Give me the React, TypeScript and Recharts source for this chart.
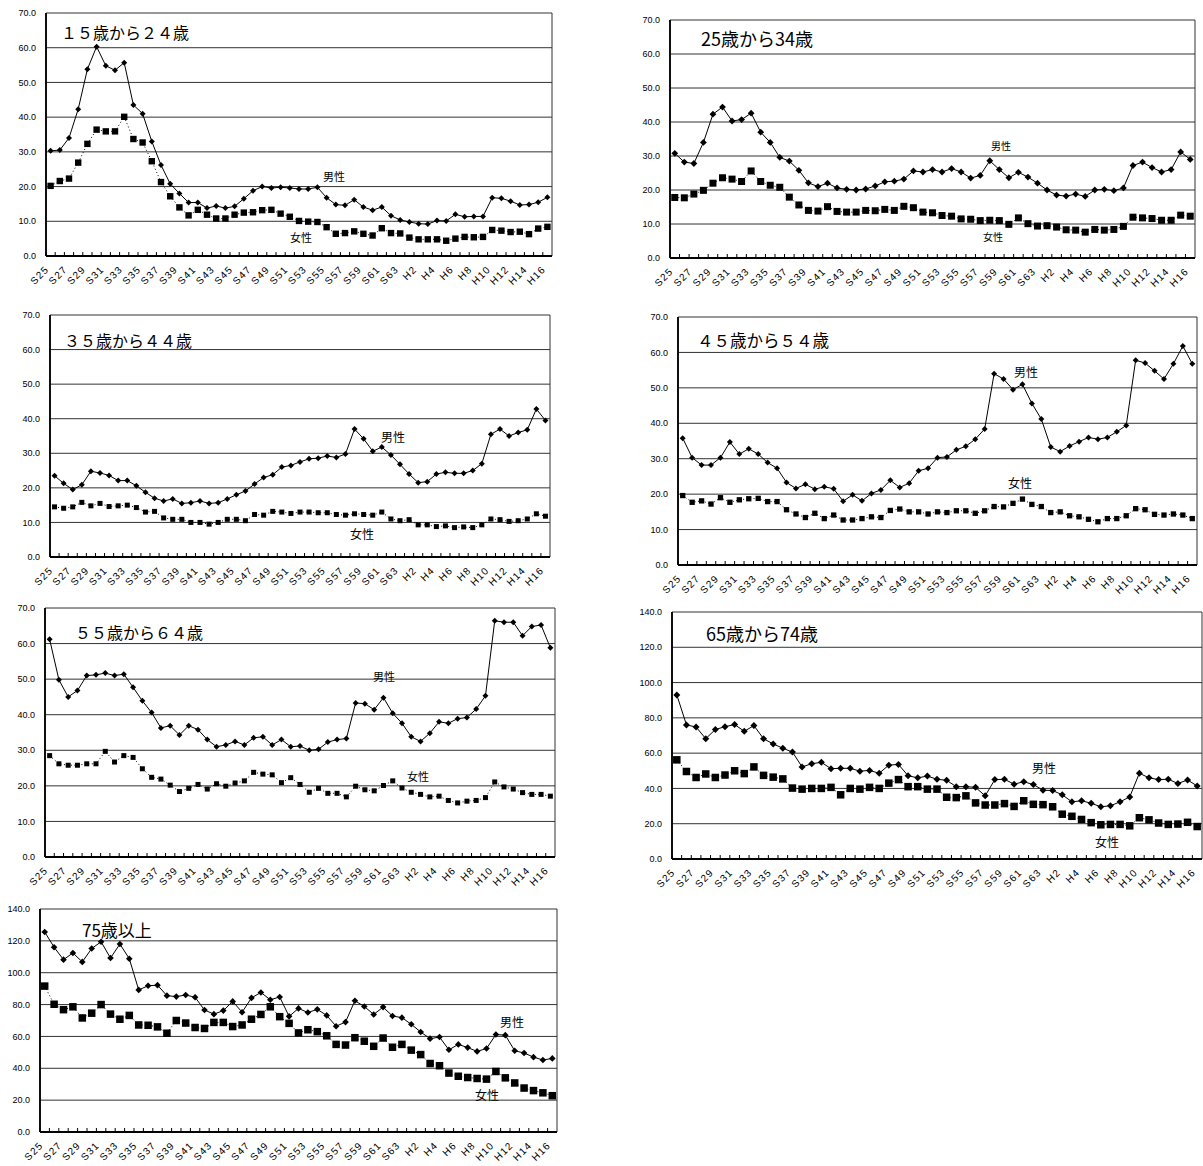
import React from 'react';
import { LineChart, Line, XAxis, YAxis, CartesianGrid } from 'recharts';

const years = [
  'S25', 'S26', 'S27', 'S28', 'S29', 'S30', 'S31', 'S32', 'S33', 'S34',
  'S35', 'S36', 'S37', 'S38', 'S39', 'S40', 'S41', 'S42', 'S43', 'S44',
  'S45', 'S46', 'S47', 'S48', 'S49', 'S50', 'S51', 'S52', 'S53', 'S54',
  'S55', 'S56', 'S57', 'S58', 'S59', 'S60', 'S61', 'S62', 'S63',
  'H1', 'H2', 'H3', 'H4', 'H5', 'H6', 'H7', 'H8', 'H9', 'H10',
  'H11', 'H12', 'H13', 'H14', 'H15', 'H16'
];

const ticks70 = [0, 10, 20, 30, 40, 50, 60, 70];
const ticks140 = [0, 20, 40, 60, 80, 100, 120, 140];

const male15 = [30.3, 30.5, 34.0, 42.3, 53.8, 60.3, 54.8, 53.5, 55.7, 43.5, 41.0, 33.0, 26.2, 20.8, 18.0, 15.4, 15.4, 13.8, 14.4, 13.8, 14.3, 16.5, 18.8, 20.0, 19.6, 19.8, 19.6, 19.3, 19.3, 19.8, 16.8, 14.8, 14.6, 16.2, 14.1, 13.2, 14.1, 11.6, 10.4, 9.8, 9.3, 9.2, 10.2, 10.1, 12.0, 11.3, 11.4, 11.4, 16.8, 16.6, 15.8, 14.7, 14.8, 15.5, 16.9];
const female15 = [20.2, 21.6, 22.3, 26.9, 32.3, 36.4, 35.9, 35.9, 40.1, 33.7, 32.7, 27.3, 21.3, 17.2, 14.0, 11.7, 13.3, 11.9, 10.8, 10.8, 11.9, 12.5, 12.6, 13.2, 13.3, 12.2, 11.3, 10.1, 9.9, 9.8, 8.3, 6.4, 6.6, 7.1, 6.4, 5.9, 8.0, 6.6, 6.5, 5.3, 4.8, 4.8, 4.8, 4.4, 5.0, 5.5, 5.4, 5.5, 7.5, 7.3, 6.9, 7.0, 6.3, 7.9, 8.4];

const male25 = [30.8, 28.2, 27.8, 34.0, 42.3, 44.4, 40.3, 40.7, 42.6, 37.0, 34.0, 29.6, 28.5, 25.8, 22.1, 21.0, 22.0, 20.6, 20.2, 20.0, 20.3, 21.2, 22.4, 22.6, 23.2, 25.6, 25.3, 26.0, 25.3, 26.3, 25.3, 23.5, 24.3, 28.6, 26.0, 23.6, 25.2, 23.8, 22.0, 20.0, 18.5, 18.2, 18.8, 18.1, 20.0, 20.2, 19.8, 20.6, 27.2, 28.2, 26.6, 25.3, 26.0, 31.2, 29.0];
const female25 = [17.8, 17.7, 18.8, 19.9, 22.0, 23.6, 23.2, 22.5, 25.6, 22.5, 21.4, 20.8, 17.9, 15.6, 14.0, 13.8, 15.1, 13.7, 13.5, 13.5, 14.0, 13.9, 14.3, 14.0, 15.2, 14.8, 13.5, 13.3, 12.5, 12.3, 11.5, 11.4, 11.0, 11.1, 11.0, 9.9, 11.8, 10.1, 9.4, 9.5, 9.1, 8.3, 8.2, 7.6, 8.4, 8.2, 8.4, 9.3, 12.0, 11.8, 11.6, 11.1, 11.1, 12.6, 12.3];

const male35 = [23.5, 21.3, 19.5, 20.9, 24.8, 24.3, 23.6, 22.1, 22.1, 20.6, 18.7, 17.0, 16.2, 16.8, 15.5, 15.7, 16.2, 15.5, 15.7, 16.8, 18.0, 19.1, 21.1, 23.0, 23.8, 26.0, 26.5, 27.5, 28.4, 28.6, 29.2, 28.8, 29.8, 37.0, 34.2, 30.6, 31.8, 29.5, 26.8, 24.0, 21.5, 21.8, 24.0, 24.5, 24.2, 24.2, 25.0, 27.0, 35.5, 37.0, 35.0, 36.0, 36.8, 42.8, 39.5];
const female35 = [14.5, 14.1, 14.5, 15.8, 14.8, 15.5, 14.6, 14.8, 15.0, 14.3, 13.0, 13.2, 11.3, 10.9, 10.9, 10.0, 10.0, 9.5, 10.0, 10.9, 10.9, 10.5, 12.3, 12.1, 13.2, 13.0, 12.6, 13.0, 13.0, 12.8, 12.8, 12.3, 12.1, 12.5, 12.3, 12.1, 13.0, 11.0, 10.5, 10.8, 9.3, 9.3, 8.8, 9.0, 8.5, 8.7, 8.5, 9.3, 11.0, 10.8, 10.3, 10.5, 11.0, 12.5, 11.8];

const male45 = [35.8, 30.3, 28.2, 28.2, 30.3, 34.7, 31.3, 32.8, 31.3, 28.9, 27.3, 23.3, 21.6, 22.8, 21.4, 22.1, 21.5, 18.0, 19.8, 18.1, 20.2, 21.2, 23.9, 21.9, 23.1, 26.6, 27.3, 30.3, 30.5, 32.5, 33.5, 35.5, 38.4, 54.0, 52.5, 49.5, 51.0, 45.6, 41.2, 33.3, 32.0, 33.6, 34.8, 36.0, 35.5, 36.0, 37.6, 39.4, 57.8, 57.0, 54.8, 52.5, 56.8, 61.8, 56.8];
const female45 = [19.6, 17.7, 18.1, 17.2, 19.0, 17.7, 18.4, 18.7, 18.8, 17.9, 17.9, 15.6, 14.4, 13.4, 14.6, 13.1, 14.1, 12.7, 12.7, 13.1, 13.6, 13.4, 15.4, 15.8, 15.0, 15.0, 14.4, 15.0, 14.8, 15.3, 15.3, 14.6, 15.3, 16.5, 16.4, 17.4, 18.6, 17.1, 16.5, 14.8, 15.0, 13.9, 13.6, 12.9, 12.2, 13.1, 13.1, 13.9, 15.9, 15.6, 14.3, 14.1, 14.4, 14.1, 13.1];

const male55 = [61.2, 49.8, 45.0, 46.8, 51.0, 51.2, 51.7, 51.0, 51.4, 47.7, 43.9, 40.6, 36.3, 36.9, 34.3, 36.9, 35.8, 33.0, 31.0, 31.5, 32.5, 31.5, 33.5, 33.8, 31.5, 33.0, 31.0, 31.2, 30.0, 30.3, 32.3, 33.0, 33.3, 43.3, 43.1, 41.4, 44.8, 40.4, 37.6, 33.8, 32.5, 34.8, 38.0, 37.6, 38.9, 39.2, 41.6, 45.3, 66.4, 66.0, 66.0, 62.2, 64.8, 65.2, 58.8];
const female55 = [28.5, 26.2, 25.8, 25.8, 26.2, 26.2, 29.7, 26.7, 28.5, 28.0, 24.8, 22.4, 21.9, 20.2, 18.4, 19.3, 20.4, 19.1, 20.6, 19.9, 20.8, 21.4, 23.8, 23.3, 23.1, 20.9, 22.3, 20.4, 18.2, 19.3, 17.9, 17.9, 16.9, 19.9, 18.9, 18.6, 20.1, 21.4, 19.4, 18.2, 17.6, 16.9, 17.1, 15.9, 15.2, 15.7, 15.9, 16.7, 21.1, 19.7, 19.1, 18.1, 17.6, 17.6, 17.1];

const male65 = [93.0, 76.0, 74.8, 68.2, 73.4, 75.0, 76.2, 72.4, 75.6, 68.2, 65.2, 62.8, 60.6, 52.2, 54.0, 54.8, 51.2, 51.4, 51.4, 49.8, 50.2, 48.6, 53.2, 53.6, 47.2, 46.0, 47.0, 45.2, 44.6, 41.0, 41.0, 40.6, 35.8, 45.0, 45.2, 42.4, 43.8, 42.2, 39.0, 38.8, 36.4, 32.4, 33.0, 31.6, 29.6, 30.2, 32.4, 35.2, 48.6, 46.0, 45.0, 45.2, 42.8, 44.8, 41.4];
const female65 = [56.2, 49.6, 46.2, 48.2, 46.2, 47.6, 50.0, 48.4, 52.2, 47.4, 46.4, 45.4, 40.2, 39.6, 40.0, 40.0, 40.6, 36.4, 40.0, 39.6, 40.6, 40.0, 43.0, 45.0, 41.0, 41.0, 39.6, 39.6, 35.0, 34.8, 35.8, 31.8, 30.6, 30.6, 31.4, 29.8, 33.0, 31.0, 30.8, 29.6, 25.4, 24.2, 22.4, 20.6, 19.4, 19.6, 19.6, 18.8, 23.4, 22.2, 20.4, 19.6, 19.8, 20.8, 18.4];

const male75 = [125.6, 116.0, 108.2, 112.4, 106.8, 115.2, 119.4, 109.2, 118.0, 108.8, 89.2, 91.8, 92.2, 85.6, 85.0, 86.0, 84.6, 76.6, 74.0, 76.2, 82.0, 75.2, 84.2, 87.6, 83.0, 84.8, 72.6, 77.6, 75.0, 77.0, 73.2, 66.4, 69.0, 82.4, 78.8, 73.8, 78.4, 72.8, 71.8, 67.6, 62.8, 58.6, 59.6, 51.6, 55.0, 53.0, 50.6, 52.4, 61.2, 60.8, 51.0, 49.6, 47.0, 45.2, 46.2];
const female75 = [91.6, 80.2, 76.8, 78.6, 71.6, 74.6, 80.0, 74.0, 70.8, 73.2, 67.2, 67.0, 66.0, 62.0, 70.0, 68.4, 65.6, 65.0, 68.8, 68.8, 66.2, 67.2, 70.8, 73.8, 78.6, 72.4, 68.2, 62.2, 64.2, 63.0, 60.4, 55.0, 54.6, 59.2, 57.0, 53.8, 59.0, 53.2, 55.0, 51.4, 48.6, 43.0, 41.6, 37.0, 35.0, 34.2, 33.6, 33.2, 38.0, 34.0, 30.8, 27.6, 26.0, 24.6, 22.8];

// layout of each small chart (plot box in page pixels)
const panels = [
  { left: 46, top: 13, w: 506, h: 243, ticks: ticks70, title: '１５歳から２４歳', tx: 61, ty: 32, ts: 16, male: male15, female: female15, sq: 6.4, dm: 3,
    notes: [{ t: '男性', x: 334, y: 176, s: 11 }, { t: '女性', x: 301, y: 237, s: 11 }] },
  { left: 670, top: 20, w: 525, h: 238, ticks: ticks70, title: '25歳から34歳', tx: 701, ty: 38, ts: 18, male: male25, female: female25, sq: 7, dm: 3.4,
    notes: [{ t: '男性', x: 1001, y: 146, s: 10 }, { t: '女性', x: 993, y: 237, s: 10 }] },
  { left: 50, top: 315, w: 500, h: 242, ticks: ticks70, title: '３５歳から４４歳', tx: 64, ty: 340, ts: 16, male: male35, female: female35, sq: 5, dm: 3,
    notes: [{ t: '男性', x: 393, y: 437, s: 12 }, { t: '女性', x: 362, y: 534, s: 12 }] },
  { left: 678, top: 317, w: 519, h: 248, ticks: ticks70, title: '４５歳から５４歳', tx: 697, ty: 340, ts: 16.5, male: male45, female: female45, sq: 5.3, dm: 3,
    notes: [{ t: '男性', x: 1026, y: 372, s: 12 }, { t: '女性', x: 1020, y: 483, s: 12 }] },
  { left: 45, top: 608, w: 510, h: 249, ticks: ticks70, title: '５５歳から６４歳', tx: 75, ty: 632, ts: 16, male: male55, female: female55, sq: 5, dm: 3,
    notes: [{ t: '男性', x: 384, y: 676, s: 11 }, { t: '女性', x: 418, y: 776, s: 11 }] },
  { left: 672, top: 612, w: 530, h: 247, ticks: ticks140, title: '65歳から74歳', tx: 706, ty: 633, ts: 18, male: male65, female: female65, sq: 7.5, dm: 3.5,
    notes: [{ t: '男性', x: 1044, y: 768, s: 12 }, { t: '女性', x: 1107, y: 842, s: 12 }] },
  { left: 40, top: 909, w: 517, h: 223, ticks: ticks140, title: '75歳以上', tx: 82, ty: 929, ts: 17, male: male75, female: female75, sq: 7.5, dm: 3.3,
    notes: [{ t: '男性', x: 512, y: 1022, s: 12 }, { t: '女性', x: 487, y: 1095, s: 12 }] }
];

const AXIS_W = 46;
const M_TOP = 8;
const M_RIGHT = 8;
const X_H = 40;
const numFont = '"Liberation Sans", Arial, sans-serif';
const jpFont = '"Noto Sans CJK JP", "Noto Sans", sans-serif';

const yearTick = (band: number) => (p: any) => {
  const { x, y, payload, index } = p;
  return (
    <g transform={`translate(${x},${y})`}>
      <line x1={-band / 2} x2={-band / 2} y1={0} y2={-4} stroke='#000' strokeWidth={1} />
      {index % 2 === 0 && (
        <text
          transform='translate(-1,14) rotate(-45)'
          textAnchor='end'
          fontSize={10}
          letterSpacing={1.2}
          fill='#000'
          fontFamily={numFont}
        >
          {payload.value}
        </text>
      )}
    </g>
  );
};

const squareDot = (s: number) => (p: any) => {
  if (p.cx == null || p.cy == null) return <g key={p.index} />;
  return <rect key={p.index} x={p.cx - s / 2} y={p.cy - s / 2} width={s} height={s} fill='#000' />;
};

const diamondDot = (r: number) => (p: any) => {
  if (p.cx == null || p.cy == null) return <g key={p.index} />;
  const { cx, cy } = p;
  return <path key={p.index} d={`M${cx},${cy - r}L${cx + r},${cy}L${cx},${cy + r}L${cx - r},${cy}Z`} fill='#000' />;
};

const Panel = ({ cfg }: { cfg: any }) => {
  const data = years.map((year, i) => ({ year, male: cfg.male[i], female: cfg.female[i] }));
  const band = cfg.w / years.length;
  const yMax = cfg.ticks[cfg.ticks.length - 1];
  return (
    <>
      <div style={{ position: 'absolute', left: cfg.left - AXIS_W, top: cfg.top - M_TOP }}>
        <LineChart
          width={cfg.w + AXIS_W + M_RIGHT}
          height={cfg.h + M_TOP + X_H}
          data={data}
          margin={{ top: M_TOP, right: M_RIGHT, left: 0, bottom: 0 }}
        >
          <CartesianGrid stroke='#333' verticalPoints={[AXIS_W, AXIS_W + cfg.w]} />
          <XAxis
            dataKey='year'
            interval={0}
            height={X_H}
            padding={{ left: band / 2, right: band / 2 }}
            tickSize={0}
            tickMargin={0}
            tickLine={false}
            axisLine={{ stroke: '#000', strokeWidth: 1.8 }}
            tick={yearTick(band)}
          />
          <YAxis
            type='number'
            domain={[0, yMax]}
            ticks={cfg.ticks}
            interval={0}
            width={AXIS_W}
            tickLine={false}
            tickSize={0}
            tickMargin={10}
            axisLine={{ stroke: '#000', strokeWidth: 1.8 }}
            tick={{ fontSize: 9, fill: '#000', fontFamily: numFont }}
            tickFormatter={(v: number) => v.toFixed(1)}
          />
          <Line
            dataKey='female'
            stroke='#000'
            strokeWidth={1}
            strokeDasharray='1 2.5'
            dot={squareDot(cfg.sq)}
            isAnimationActive={false}
          />
          <Line
            dataKey='male'
            stroke='#000'
            strokeWidth={1}
            dot={diamondDot(cfg.dm)}
            isAnimationActive={false}
          />
        </LineChart>
      </div>
      <div
        style={{
          position: 'absolute',
          left: cfg.tx,
          top: cfg.ty - cfg.ts / 2,
          fontSize: cfg.ts,
          lineHeight: 1,
          fontFamily: jpFont,
          whiteSpace: 'nowrap',
          color: '#000'
        }}
      >
        {cfg.title}
      </div>
      {cfg.notes.map((n: any) => (
        <div
          key={n.t}
          style={{
            position: 'absolute',
            left: n.x,
            top: n.y,
            transform: 'translate(-50%, -50%)',
            fontSize: n.s,
            lineHeight: 1,
            fontFamily: jpFont,
            whiteSpace: 'nowrap',
            color: '#000'
          }}
        >
          {n.t}
        </div>
      ))}
    </>
  );
};

const App = () => {
  return (
    <div style={{ position: 'absolute', left: 0, top: 0, width: 1203, height: 1166, background: '#fff', overflow: 'hidden' }}>
      {panels.map((p, i) => (
        <Panel key={i} cfg={p} />
      ))}
    </div>
  );
};

export default App;
